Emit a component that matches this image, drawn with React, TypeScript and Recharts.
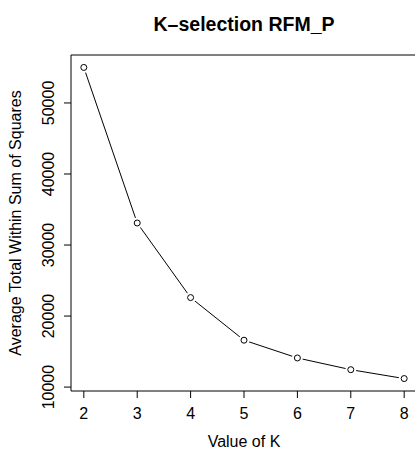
import { LineChart, Line, XAxis, YAxis, ReferenceArea, Label } from 'recharts';

const kValues = [2, 3, 4, 5, 6, 7, 8];
const avgWithinSS = [55000, 33100, 22600, 16600, 14100, 12450, 11200];
const xTicks = [2, 3, 4, 5, 6, 7, 8];
const yTicks = [10000, 20000, 30000, 40000, 50000];

const data = kValues.map((k, i) => ({ k, wss: avgWithinSS[i] }));

// R-style 4% padding on both axes
const pad = (lo: number, hi: number): [number, number] => {
  const d = (hi - lo) * 0.04;
  return [lo - d, hi + d];
};
const xDomain = pad(Math.min(...kValues), Math.max(...kValues));
const yDomain = pad(Math.min(...avgWithinSS), Math.max(...avgWithinSS));

const FONT = '"Liberation Sans", Arial, Helvetica, sans-serif';

const YTick = ({ x, y, payload }: { x?: number; y?: number; payload?: { value: number } }) => (
  <text
    x={x}
    y={y}
    transform={`rotate(-90, ${x}, ${y})`}
    textAnchor="middle"
    fontSize={16}
    fontFamily={FONT}
    fill="#000"
  >
    {payload?.value}
  </text>
);

const YLabel = ({ viewBox }: { viewBox?: { x: number; y: number; width: number; height: number } }) => {
  const cy = viewBox ? viewBox.y + viewBox.height / 2 : 223;
  return (
    <text
      x={21}
      y={cy}
      transform={`rotate(-90, 21, ${cy})`}
      textAnchor="middle"
      fontSize={16}
      fontFamily={FONT}
      fill="#000"
    >
      Average Total Within Sum of Squares
    </text>
  );
};

const OpenDot = ({ cx, cy }: { cx?: number; cy?: number }) => (
  <g>
    <circle cx={cx} cy={cy} r={5.5} fill="#fff" stroke="none" />
    <circle cx={cx} cy={cy} r={3} fill="none" stroke="#000" strokeWidth={1} />
  </g>
);

export default function App() {
  return (
    <div style={{ position: 'absolute', left: 0, top: 0, width: 415, height: 449, overflow: 'hidden', background: '#fff' }}>
      <LineChart width={420} height={449} data={data} margin={{ top: 55, right: 3, bottom: 0, left: 0 }}>
        <text x={244} y={31} textAnchor="middle" fontSize={19.5} fontWeight="bold" fontFamily={FONT} fill="#000">
          K–selection RFM_P
        </text>
        <XAxis
          dataKey="k"
          type="number"
          domain={xDomain}
          ticks={xTicks}
          allowDataOverflow
          height={58}
          axisLine={false}
          tickLine={{ stroke: '#000' }}
          tickSize={7}
          tickMargin={10}
          tick={{ fontSize: 16, fill: '#000', fontFamily: FONT }}
        >
          <Label value="Value of K" position="insideBottom" offset={2} fontSize={16} fill="#000" fontFamily={FONT} />
        </XAxis>
        <YAxis
          type="number"
          domain={yDomain}
          ticks={yTicks}
          allowDataOverflow
          width={71}
          axisLine={false}
          tickLine={{ stroke: '#000' }}
          tickSize={7}
          tickMargin={10}
          tick={<YTick />}
          label={<YLabel />}
        />
        <ReferenceArea
          x1={xDomain[0]}
          x2={xDomain[1]}
          y1={yDomain[0]}
          y2={yDomain[1]}
          fill="none"
          stroke="#000"
          strokeWidth={1}
          ifOverflow="visible"
        />
        <Line
          dataKey="wss"
          stroke="#000"
          strokeWidth={1}
          dot={<OpenDot />}
          activeDot={false}
          isAnimationActive={false}
        />
      </LineChart>
    </div>
  );
}
